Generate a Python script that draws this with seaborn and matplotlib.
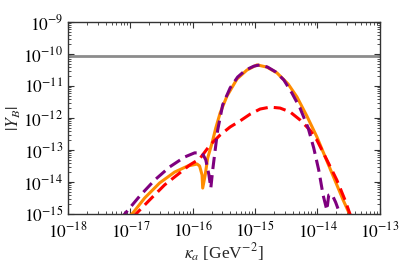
import numpy as np
import matplotlib
matplotlib.use('Agg')
import matplotlib.pyplot as plt
import seaborn as sns
from matplotlib.ticker import LogLocator, NullFormatter

# -----------------------------
# Data (log10 values)
# -----------------------------

purple_logk = [-17.17, -17.09, -16.85, -16.61, -16.37, -16.13, -15.97, -15.85,
               -15.79, -15.74, -15.71, -15.68, -15.64, -15.60, -15.52, -15.40,
               -15.28, -15.15, -15.02, -14.92, -14.80, -14.67, -14.54, -14.41,
               -14.28, -14.15, -14.06, -13.98, -13.91, -13.85, -13.82, -13.77,
               -13.71, -13.64, -13.59]
purple_logy = [-15.19, -15.00, -14.44, -13.94, -13.53, -13.22, -13.09, -13.09,
               -13.31, -13.78, -14.19, -13.63, -13.00, -12.38, -11.59, -11.06,
               -10.72, -10.50, -10.38, -10.34, -10.41, -10.56, -10.81, -11.22,
               -11.69, -12.31, -12.94, -13.63, -14.41, -14.88, -14.41, -14.38,
               -14.63, -15.00, -15.25]

orange_logk = [-17.01, -16.96, -16.77, -16.53, -16.29, -16.08, -15.93, -15.89,
               -15.85, -15.84, -15.80, -15.76, -15.69, -15.63, -15.56, -15.45,
               -15.29, -15.13, -14.97, -14.81, -14.65, -14.47, -14.33, -14.17,
               -14.01, -13.91, -13.75, -13.59, -13.48]
orange_logy = [-15.06, -14.97, -14.50, -14.03, -13.69, -13.50, -13.44, -13.50,
               -13.78, -14.19, -13.78, -13.25, -12.78, -12.31, -11.84, -11.31,
               -10.78, -10.50, -10.34, -10.41, -10.59, -10.94, -11.34, -11.94,
               -12.59, -13.06, -13.81, -14.56, -15.03]

red_logk = [-16.97, -16.91, -16.69, -16.45, -16.21, -16.05, -15.89, -15.72,
            -15.56, -15.40, -15.24, -15.08, -14.92, -14.76, -14.60, -14.44,
            -14.28, -14.12, -14.01, -13.85, -13.69, -13.56, -13.48, -13.45]
red_logy = [-15.13, -15.00, -14.56, -14.09, -13.72, -13.47, -13.28, -12.84,
            -12.53, -12.28, -12.09, -11.88, -11.72, -11.66, -11.69, -11.81,
            -12.06, -12.38, -12.69, -13.31, -13.94, -14.56, -15.00, -15.19]

y_observed = 8.8e-11

x_decades = [-18, -17, -16, -15, -14, -13]
y_decades = [-15, -14, -13, -12, -11, -10, -9]

# -----------------------------
# Plot
# -----------------------------

sns.set_style('ticks')
plt.rcParams['font.family'] = ['Liberation Serif', 'DejaVu Serif']
plt.rcParams['mathtext.fontset'] = 'stix'

fig = plt.figure(figsize=(4.02, 2.65), dpi=100)
ax = fig.add_axes([0.169, 0.1925, 0.776, 0.7245])

ax.axhline(y_observed, color='#8c8c8c', lw=2.0, zorder=1)

sns.lineplot(x=10.0 ** np.array(orange_logk), y=10.0 ** np.array(orange_logy),
             sort=False, estimator=None, color='#ff8c00', lw=2.2, ax=ax)
sns.lineplot(x=10.0 ** np.array(red_logk), y=10.0 ** np.array(red_logy),
             sort=False, estimator=None, color='#ff0000', lw=2.2,
             linestyle=(0, (4, 2)), ax=ax)
sns.lineplot(x=10.0 ** np.array(purple_logk), y=10.0 ** np.array(purple_logy),
             sort=False, estimator=None, color='#7f007f', lw=2.2,
             linestyle=(0, (4, 2)), ax=ax)

ax.set_xscale('log')
ax.set_yscale('log')
ax.set_xlim(10.0 ** x_decades[0], 10.0 ** x_decades[-1])
ax.set_ylim(10.0 ** y_decades[0], 10.0 ** y_decades[-1])

ax.set_xticks([10.0 ** d for d in x_decades])
ax.set_xticklabels([r'$10^{%d}$' % d for d in x_decades])
ax.set_yticks([10.0 ** d for d in y_decades])
ax.set_yticklabels([r'$10^{%d}$' % d for d in y_decades])
ax.xaxis.set_minor_locator(LogLocator(base=10, subs=np.arange(2, 10), numticks=10))
ax.yaxis.set_minor_locator(LogLocator(base=10, subs=np.arange(2, 10), numticks=10))
ax.xaxis.set_minor_formatter(NullFormatter())
ax.yaxis.set_minor_formatter(NullFormatter())

ax.tick_params(which='both', direction='in', top=True, right=True,
               colors='#333333', labelcolor='black', labelsize=12.5)
ax.tick_params(which='major', length=4, width=0.8)
ax.tick_params(which='minor', length=2, width=0.6)
ax.tick_params(axis='x', pad=5)
for s in ax.spines.values():
    s.set_color('#333333')
    s.set_linewidth(1.0)

ax.set_xlabel(r'$\kappa_a$ [GeV$^{-2}$]', fontsize=12.5)
ax.set_ylabel(r'$|Y_B|$', fontsize=12.5)
ax.yaxis.set_label_coords(-0.145, 0.5)
ax.xaxis.set_label_coords(0.5, -0.145)
ax.xaxis.label.set_va('top')

fig.savefig('out.png', dpi=100)
